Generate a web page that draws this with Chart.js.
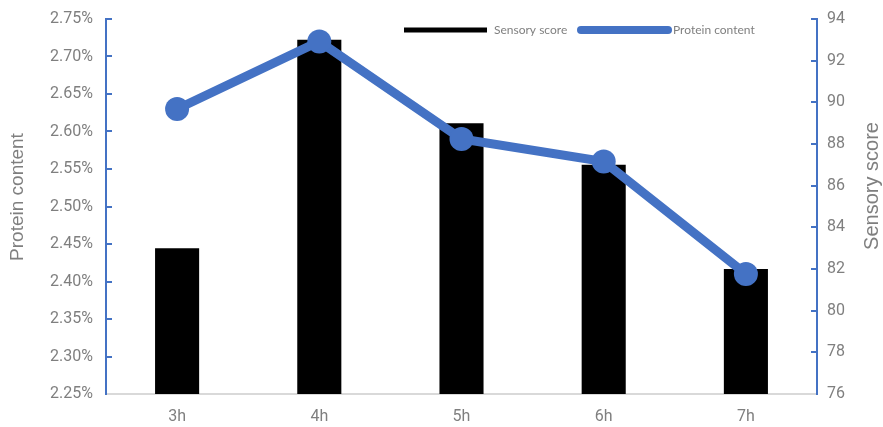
<!DOCTYPE html>
<html>
<head>
<meta charset="utf-8">
<style>
  html, body { margin: 0; padding: 0; background: #ffffff; }
  #wrap { width: 883px; height: 427px; }
</style>
<script src="https://cdn.jsdelivr.net/npm/chart.js@4/dist/chart.umd.min.js"></script>
</head>
<body>
<div id="wrap"><canvas id="chart" width="883" height="427"></canvas></div>
<script>
// Fermentation time categories
const categories = ['3h', '4h', '5h', '6h', '7h'];
// Sensory score (right axis, bars)
const sensoryScore = [83, 93, 89, 87, 82];
// Protein content in percent (left axis, line)
const proteinContent = [2.63, 2.72, 2.59, 2.56, 2.41];

const BLUE = '#4472C4';
const TEXT = '#7f7f7f';

// Axis titles and legend drawn onto the canvas
const decorations = {
  id: 'decorations',
  afterDraw(chart) {
    const ctx = chart.ctx;
    ctx.save();
    // axis titles, both reading bottom-to-top
    ctx.fillStyle = TEXT;
    ctx.textAlign = 'center';
    ctx.textBaseline = 'middle';
    ctx.save();
    ctx.font = '19px "Liberation Sans", Arial, sans-serif';
    ctx.translate(18, 197);
    ctx.rotate(-Math.PI / 2);
    ctx.fillText('Protein content', 0, 0);
    ctx.restore();
    ctx.save();
    ctx.font = '20px "Liberation Sans", Arial, sans-serif';
    ctx.translate(872, 186);
    ctx.rotate(-Math.PI / 2);
    ctx.fillText('Sensory score', 0, 0);
    ctx.restore();

    // legend
    const ly = 30;
    ctx.font = '12px Lato, "Liberation Sans", sans-serif';
    ctx.textAlign = 'left';
    ctx.lineCap = 'butt';
    ctx.strokeStyle = '#000000';
    ctx.lineWidth = 5;
    ctx.beginPath();
    ctx.moveTo(404, ly);
    ctx.lineTo(487, ly);
    ctx.stroke();
    ctx.fillText('Sensory score', 494, ly);

    ctx.lineCap = 'round';
    ctx.strokeStyle = BLUE;
    ctx.lineWidth = 8;
    ctx.beginPath();
    ctx.moveTo(581, ly);
    ctx.lineTo(668, ly);
    ctx.stroke();
    ctx.fillText('Protein content', 673, ly);
    ctx.restore();
  }
};

const tickFont = { family: 'Roboto, "Liberation Sans", sans-serif', size: 16 };

// fixed axis widths, no extra label overhang above/below the plot
function fixY(width) {
  return function (scale) {
    scale.width = width;
    scale.paddingTop = 0;
    scale.paddingBottom = 0;
  };
}

new Chart(document.getElementById('chart'), {
  type: 'bar',
  data: {
    labels: categories,
    datasets: [
      {
        type: 'line',
        label: 'Protein content',
        data: proteinContent,
        yAxisID: 'yLeft',
        borderColor: BLUE,
        backgroundColor: BLUE,
        borderWidth: 9,
        pointRadius: 12,
        pointHoverRadius: 12,
        pointBorderWidth: 0,
        tension: 0,
        order: 0
      },
      {
        type: 'bar',
        label: 'Sensory score',
        data: sensoryScore,
        yAxisID: 'yRight',
        backgroundColor: '#000000',
        borderWidth: 0,
        barPercentage: 0.31,
        categoryPercentage: 1.0,
        order: 1
      }
    ]
  },
  options: {
    responsive: false,
    animation: false,
    devicePixelRatio: 1,
    layout: { padding: { left: 4, right: 0, top: 19, bottom: 0 } },
    plugins: {
      legend: { display: false },
      tooltip: { enabled: false }
    },
    scales: {
      x: {
        offset: true,
        afterFit(scale) { scale.height = 33; scale.paddingLeft = 0; scale.paddingRight = 0; },
        grid: { display: false, drawTicks: false },
        border: { display: true, color: '#d9d9d9', width: 2 },
        ticks: { color: TEXT, font: tickFont, padding: 13 }
      },
      yLeft: {
        position: 'left',
        min: 2.25,
        max: 2.75,
        afterFit: fixY(102),
        grid: { drawOnChartArea: false, drawTicks: true, tickLength: -6, color: BLUE, lineWidth: 2 },
        border: { display: true, color: BLUE, width: 2 },
        ticks: {
          stepSize: 0.05,
          color: TEXT,
          font: tickFont,
          padding: 19,
          callback: v => v.toFixed(2) + '%'
        }
      },
      yRight: {
        position: 'right',
        min: 76,
        max: 94,
        afterFit: fixY(66),
        grid: { drawOnChartArea: false, drawTicks: true, tickLength: -6, color: BLUE, lineWidth: 2 },
        border: { display: true, color: BLUE, width: 2 },
        ticks: {
          stepSize: 2,
          color: TEXT,
          font: tickFont,
          padding: 16
        }
      }
    }
  },
  plugins: [decorations]
});
</script>
</body>
</html>
